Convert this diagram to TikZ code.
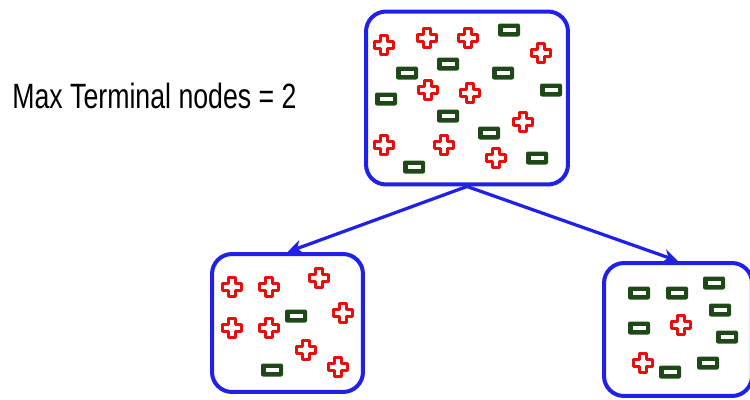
\documentclass[tikz,border=0pt]{standalone}
\usepackage{fontspec}
\usepackage{graphicx}
\usepackage{tikz}
\usetikzlibrary{arrows.meta}
\newfontfamily\labelfont{Liberation Sans}
\definecolor{edgeblue}{RGB}{32,32,232}
\definecolor{plusred}{RGB}{235,12,12}
\definecolor{minusgreen}{RGB}{30,72,24}
\tikzset{samplebox/.style={draw=edgeblue,line width=0.08cm,rounded corners=0.4cm,inner sep=0pt},
    split/.style={draw=edgeblue,line width=0.065cm,-{Stealth[length=0.3cm,width=0.28cm]}},
    plussign/.pic={
        \filldraw[draw=plusred,fill=white,line width=0.075cm,line join=round]
            (-3.6,-9.6) -- (3.6,-9.6) -- (3.6,-3.6) -- (9.6,-3.6) -- (9.6,3.6) -- (3.6,3.6)
            -- (3.6,9.6) -- (-3.6,9.6) -- (-3.6,3.6) -- (-9.6,3.6) -- (-9.6,-3.6) -- (-3.6,-3.6) -- cycle;
    },
    minussign/.pic={
        \fill[minusgreen,rounded corners=0.04cm] (-11,-6.5) rectangle (11,6.5);
        \fill[white] (-6.5,-1.7) rectangle (6.5,1.7);
    }}

\begin{document}
\begin{tikzpicture}[x=0.02cm,y=-0.02cm]
    \useasboundingbox (0,0) rectangle (750,399);
    \node[anchor=base west,inner sep=0pt] (title) at (12,108)
        {\labelfont\fontsize{20}{24}\selectfont\scalebox{0.76}[1]{Max Terminal nodes = 2}};
    % root and the two terminal nodes
    \node[samplebox,minimum width=4.04cm,minimum height=3.46cm] (root) at (467,98) {};
    \node[samplebox,minimum width=3.02cm,minimum height=2.76cm] (left) at (287.5,323) {};
    \node[samplebox,minimum width=2.96cm,minimum height=2.66cm] (right) at (678,329.5) {};
    \draw[split] (root.south) -- (left.north);
    \draw[split] (root.south) -- (right.north);
    % root samples
    \foreach \x/\y in {384/45,427/38,468/38,541/53,428/90,470/93,523/122,384/145,444/145,496/158}
        \pic at (\x,\y) {plussign};
    \foreach \x/\y in {509/30,407/73,448/64,503/73,386/99,551/90,448/116,489/133,414/167,537/158}
        \pic at (\x,\y) {minussign};
    % left terminal node
    \foreach \x/\y in {232/287,269/287,319/278,343/313,232/328,269/328,306/350,338/367}
        \pic at (\x,\y) {plussign};
    \foreach \x/\y in {296/316,272/370}
        \pic at (\x,\y) {minussign};
    % right terminal node
    \foreach \x/\y in {681/325,643/363}
        \pic at (\x,\y) {plussign};
    \foreach \x/\y in {639/293,677/293,714/283,720/310,639/328,727/337,708/363,670/372}
        \pic at (\x,\y) {minussign};
\end{tikzpicture}
\end{document}
